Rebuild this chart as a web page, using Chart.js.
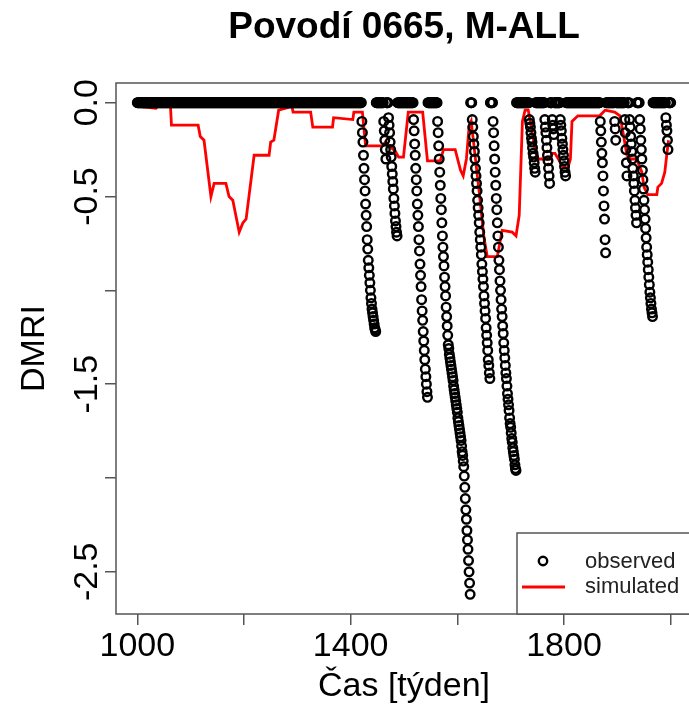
<!DOCTYPE html>
<html>
<head>
<meta charset="utf-8">
<script src="https://cdn.jsdelivr.net/npm/chart.js@4"></script>
<style>
  html, body { margin: 0; padding: 0; background: #fff; overflow: hidden; }
  #wrap { width: 700px; height: 708px; }
</style>
</head>
<body>
<div id="wrap"><canvas id="dmriChart" width="700" height="708"></canvas></div>
<script>
const firstWeek = 1000;
const lastWeek = 2000;

// observed drought spells: first week and weekly DMRI values (0 between spells)
const spellStarts = [1421, 1462, 1471, 1518, 1563, 1628, 1667, 1735, 1764, 1778, 1793, 1868, 1895, 1914, 1923, 1942, 1991];
const spellValues = [
  [-0.10, -0.16, -0.21, -0.28, -0.35, -0.41, -0.47, -0.54, -0.60, -0.66, -0.73, -0.78, -0.84, -0.88, -0.92, -0.96, -1.00, -1.04, -1.07, -1.10, -1.12, -1.14, -1.16, -1.18, -1.20, -1.21, -1.22],
  [-0.10, -0.15, -0.20, -0.25, -0.30],
  [-0.08, -0.12, -0.16, -0.21, -0.25, -0.29, -0.34, -0.38, -0.42, -0.46, -0.51, -0.55, -0.59, -0.63, -0.66, -0.69, -0.71],
  [-0.09, -0.15, -0.22, -0.28, -0.35, -0.41, -0.47, -0.54, -0.60, -0.66, -0.73, -0.79, -0.86, -0.92, -0.98, -1.05, -1.11, -1.16, -1.22, -1.27, -1.32, -1.37, -1.42, -1.46, -1.50, -1.54, -1.57],
  [-0.10, -0.16, -0.23, -0.30, -0.37, -0.44, -0.51, -0.57, -0.64, -0.71, -0.77, -0.82, -0.87, -0.93, -0.98, -1.03, -1.09, -1.14, -1.19, -1.24,
   -1.29, -1.31, -1.34, -1.36, -1.38, -1.40, -1.42, -1.44, -1.46, -1.48, -1.51, -1.53, -1.55, -1.57, -1.59, -1.61, -1.63, -1.65, -1.68, -1.70,
   -1.72, -1.74, -1.76, -1.78, -1.80, -1.83, -1.86, -1.88, -1.91, -1.94, -1.99, -2.05, -2.11, -2.17, -2.22, -2.28, -2.33, -2.38, -2.44, -2.50, -2.56, -2.62],
  [-0.09, -0.13, -0.18, -0.22, -0.26, -0.30, -0.35, -0.39, -0.43, -0.47, -0.52, -0.56, -0.60, -0.64, -0.69, -0.73, -0.77, -0.81, -0.86, -0.90,
   -0.94, -0.98, -1.03, -1.07, -1.11, -1.15, -1.20, -1.24, -1.28, -1.32, -1.37, -1.40, -1.44, -1.47],
  [-0.10, -0.16, -0.23, -0.30, -0.37, -0.44, -0.51, -0.57, -0.64, -0.71, -0.77, -0.84, -0.89, -0.95, -1.00, -1.05, -1.10, -1.14, -1.19, -1.23,
   -1.28, -1.32, -1.36, -1.40, -1.44, -1.47, -1.51, -1.55, -1.58, -1.61, -1.64, -1.68, -1.71, -1.73, -1.76, -1.79, -1.81, -1.84, -1.86, -1.88,
   -1.90, -1.93, -1.95, -1.96],
  [-0.09, -0.11, -0.13, -0.16, -0.19, -0.21, -0.24, -0.27, -0.29, -0.32, -0.35, -0.37],
  [-0.09, -0.13, -0.16, -0.20, -0.24, -0.28, -0.31, -0.35, -0.39, -0.43],
  [-0.09, -0.12, -0.14, -0.17],
  [-0.09, -0.12, -0.15, -0.19, -0.22, -0.25, -0.28, -0.31, -0.34, -0.37, -0.39],
  [-0.10, -0.15, -0.21, -0.27, -0.32, -0.39, -0.47, -0.55, -0.62, -0.73, -0.80],
  [-0.10, -0.14, -0.20],
  [-0.09, -0.16, -0.25, -0.32, -0.39],
  [-0.09, -0.13, -0.18, -0.22, -0.26, -0.30, -0.35, -0.39, -0.43, -0.47, -0.52, -0.56, -0.60, -0.64],
  [-0.09, -0.14, -0.20, -0.25, -0.30, -0.36, -0.41, -0.46, -0.52, -0.57, -0.62, -0.67, -0.72, -0.77, -0.81, -0.85, -0.89, -0.93, -0.97, -1.01,
   -1.04, -1.07, -1.10, -1.12, -1.14],
  [-0.08, -0.12, -0.15, -0.20, -0.25]
];

// simulated DMRI, read at the corners of the red line
const simWeeks = [1000, 1035, 1040, 1062, 1064, 1114, 1118, 1125, 1138, 1144, 1166, 1172, 1179, 1191, 1198, 1204, 1219, 1247, 1250, 1256,
  1265, 1290, 1292, 1325, 1329, 1366, 1368, 1404, 1406, 1422, 1428, 1460, 1465, 1484, 1490, 1499, 1508, 1535, 1544, 1568,
  1574, 1596, 1606, 1611, 1617, 1622, 1626, 1640, 1650, 1656, 1675, 1684, 1703, 1710, 1716, 1722, 1727, 1733, 1746, 1751,
  1774, 1777, 1783, 1798, 1807, 1812, 1815, 1826, 1867, 1877, 1895, 1905, 1912, 1918, 1926, 1936, 1946, 1950, 1957, 1974,
  1976, 1983, 1989, 1993, 1996];
const simValues = [-0.02, -0.03, -0.01, -0.01, -0.12, -0.12, -0.18, -0.20, -0.50, -0.43, -0.43, -0.50, -0.52, -0.69, -0.64, -0.62, -0.28, -0.28, -0.21, -0.20,
  -0.04, -0.02, -0.05, -0.05, -0.13, -0.13, -0.08, -0.09, -0.05, -0.05, -0.23, -0.23, -0.21, -0.26, -0.29, -0.29, -0.05, -0.05, -0.31, -0.31,
  -0.25, -0.25, -0.36, -0.39, -0.30, -0.13, -0.10, -0.45, -0.72, -0.82, -0.82, -0.68, -0.69, -0.71, -0.60, -0.10, -0.04, -0.04, -0.25, -0.30,
  -0.30, -0.27, -0.27, -0.34, -0.35, -0.30, -0.10, -0.07, -0.07, -0.04, -0.05, -0.07, -0.18, -0.28, -0.30, -0.30, -0.37, -0.45, -0.49, -0.49,
  -0.45, -0.43, -0.37, -0.27, -0.20];

const xTicks = [1000, 1200, 1400, 1600, 1800, 2000];
const xTickLabels = ['1000', '', '1400', '', '1800', ''];
const yTicks = [0, -0.5, -1, -1.5, -2, -2.5];
const yTickLabels = ['0.0', '-0.5', '', '-1.5', '', '-2.5'];

const observed = [];
for (let w = firstWeek; w <= lastWeek; w++) observed.push({ x: w, y: 0 });
spellStarts.forEach((s, i) => {
  spellValues[i].forEach((v, j) => { observed[s - firstWeek + j].y = v; });
});
const simulated = simWeeks.map((w, i) => ({ x: w, y: simValues[i] }));

const axisFont = { family: 'Liberation Sans', size: 34 };

// plot frame
const frame = {
  id: 'frame',
  afterDatasetsDraw(chart) {
    const { ctx, chartArea: a } = chart;
    ctx.save();
    ctx.strokeStyle = '#555';
    ctx.lineWidth = 1.5;
    ctx.strokeRect(a.left, a.top, a.right - a.left, a.bottom - a.top);
    ctx.restore();
  }
};

// R style legend box in the bottom right corner
const legendBox = {
  id: 'legendBox',
  afterDraw(chart) {
    const { ctx, chartArea: a } = chart;
    const left = a.right - 175, top = a.bottom - 81;
    ctx.save();
    ctx.fillStyle = '#fff';
    ctx.fillRect(left, top, a.right - left, a.bottom - top);
    ctx.strokeStyle = '#555';
    ctx.lineWidth = 1.5;
    ctx.strokeRect(left, top, a.right - left, a.bottom - top);

    ctx.strokeStyle = '#000';
    ctx.lineWidth = 2.4;
    ctx.beginPath();
    ctx.arc(left + 26, top + 28, 4.2, 0, Math.PI * 2);
    ctx.stroke();

    ctx.strokeStyle = '#ff0000';
    ctx.lineWidth = 2.8;
    ctx.beginPath();
    ctx.moveTo(left + 5, top + 54);
    ctx.lineTo(left + 48, top + 54);
    ctx.stroke();

    ctx.fillStyle = '#222';
    ctx.font = '22px "Liberation Sans"';
    ctx.textBaseline = 'middle';
    ctx.fillText('observed', left + 68, top + 29);
    ctx.fillText('simulated', left + 68, top + 54);
    ctx.restore();
  }
};

const ctx = document.getElementById('dmriChart').getContext('2d');
new Chart(ctx, {
  type: 'scatter',
  data: {
    datasets: [
      {
        label: 'observed',
        data: observed,
        pointStyle: 'circle',
        pointRadius: 4.3,
        pointBorderWidth: 2.4,
        borderColor: '#000',
        backgroundColor: 'rgba(0,0,0,0)',
        showLine: false
      },
      {
        label: 'simulated',
        type: 'line',
        data: simulated,
        borderColor: '#ff0000',
        borderWidth: 2.8,
        pointRadius: 0,
        tension: 0,
        fill: false
      }
    ]
  },
  options: {
    responsive: false,
    animation: false,
    layout: { padding: { left: 0, right: 8, top: 0, bottom: 0 } },
    plugins: {
      legend: { display: false },
      tooltip: { enabled: false },
      title: {
        display: true,
        fullSize: false,
        text: 'Povodí 0665, M-ALL',
        color: '#000',
        font: { family: 'Liberation Sans', size: 37, weight: 'bold' },
        padding: { top: 6, bottom: 32.6 }
      }
    },
    scales: {
      x: {
        type: 'linear',
        min: 960,
        max: 2040,
        afterBuildTicks: s => { s.ticks = xTicks.map(v => ({ value: v })); },
        afterFit: s => { s.height = 94; },
        ticks: {
          callback: (v, i) => xTickLabels[i],
          font: axisFont,
          color: '#000',
          padding: 1,
          maxRotation: 0,
          autoSkip: false
        },
        grid: { drawOnChartArea: false, tickLength: 11, color: '#555', lineWidth: 1.5 },
        border: { display: false },
        title: { display: true, text: 'Čas [týden]', font: axisFont, color: '#000', padding: { top: 0, bottom: 1 } }
      },
      y: {
        min: -2.725,
        max: 0.105,
        afterBuildTicks: s => { s.ticks = yTicks.map(v => ({ value: v })); },
        afterFit: s => { s.width = 116; },
        ticks: {
          callback: (v, i) => yTickLabels[i],
          font: axisFont,
          color: '#000',
          minRotation: 90,
          maxRotation: 90,
          crossAlign: 'center',
          padding: -12,
          autoSkip: false
        },
        grid: { drawOnChartArea: false, tickLength: 11, color: '#555', lineWidth: 1.5 },
        border: { display: false },
        title: { display: true, text: 'DMRI', font: axisFont, color: '#000', padding: { top: 14, bottom: 0 } }
      }
    }
  },
  plugins: [frame, legendBox]
});
</script>
</body>
</html>
